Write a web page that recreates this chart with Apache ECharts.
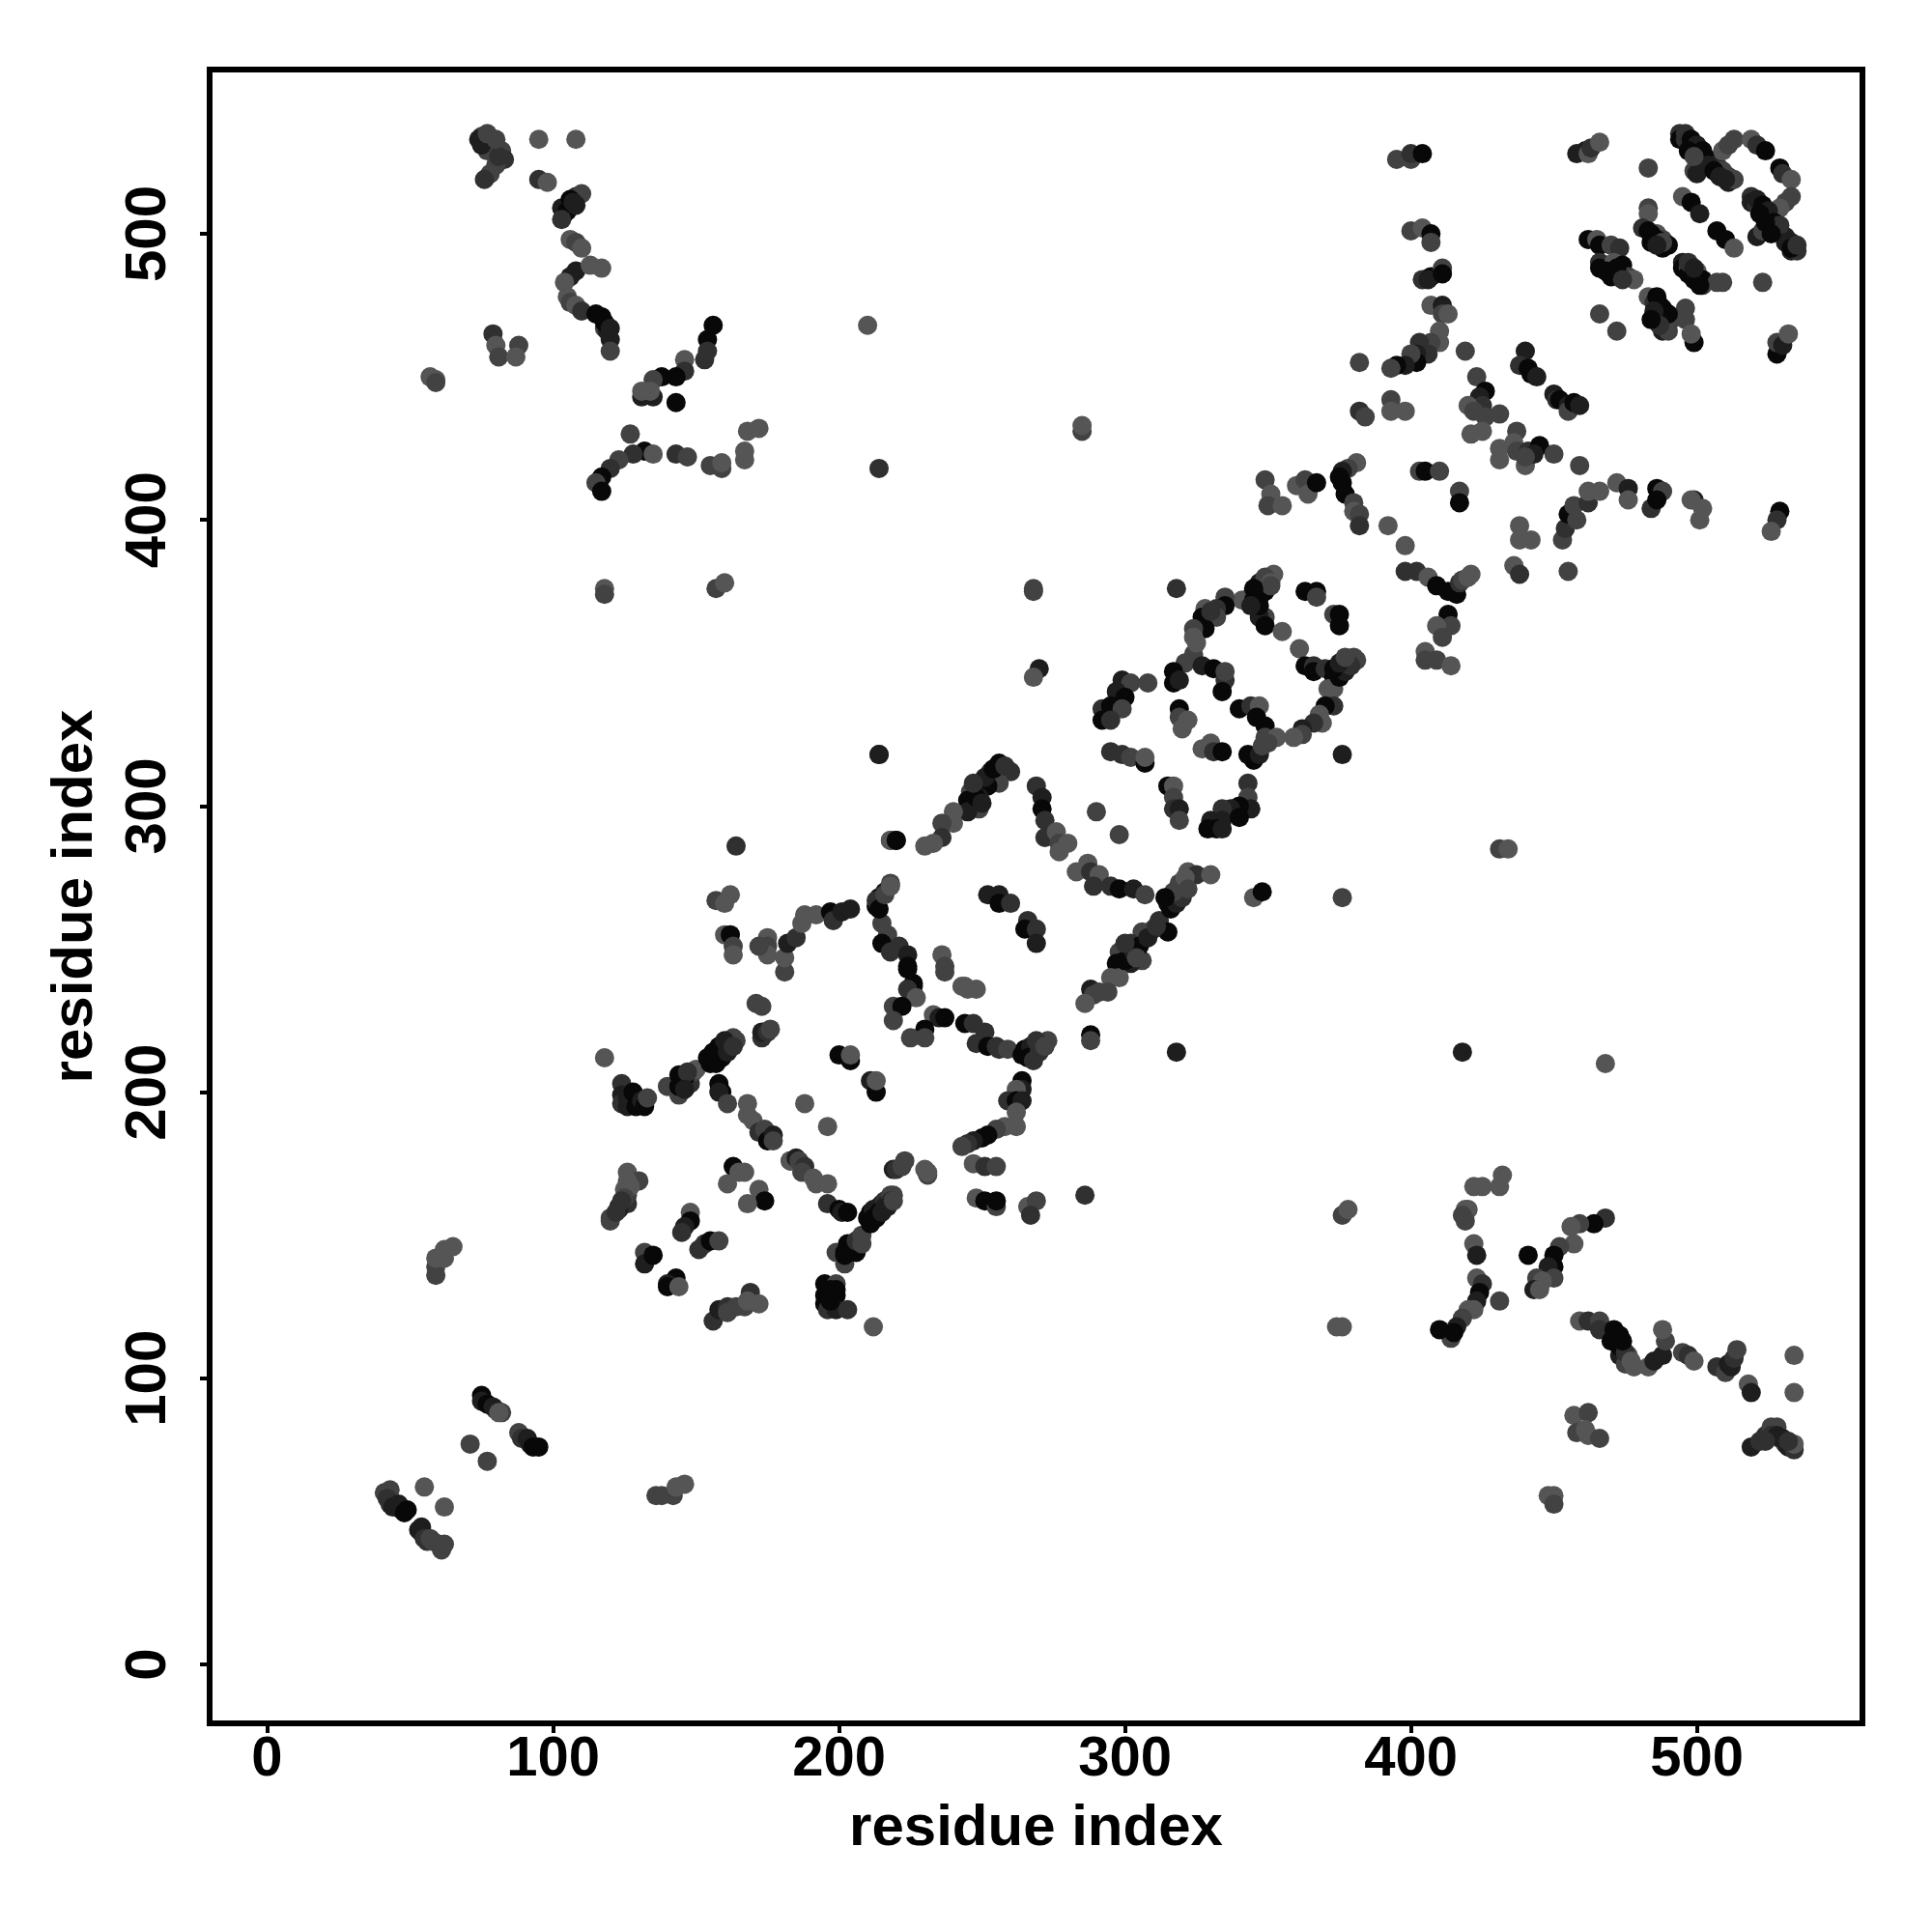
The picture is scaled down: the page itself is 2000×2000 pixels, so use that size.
<!DOCTYPE html>
<html><head><meta charset="utf-8"><style>html,body{margin:0;background:#fff}#c{width:2000px;height:2000px}</style>
<script src="https://cdn.jsdelivr.net/npm/echarts@6/dist/echarts.min.js"></script></head><body><div id="c"></div><script>
const tickValues=[0,100,200,300,400,500];
const shadeColors=['#080808','#1e1e1e','#303030','#424242','#555555'];
// [residue x, residue y, shade index]
const lowerLeft=[[41,60,3],[43,61,3],[42,58,2],[43,56,2],[44,55,1],[46,56,1],[47,54,1],[48,53,0],[49,54,0],[53,47,1],[54,46,1],[54,48,1],[55,45,1],[55,44,2],[56,43,2],[57,44,3],[58,43,3],[60,42,3],[61,40,3],[62,42,3],[55,62,4],[62,55,4],
[75,94,0],[75,92,1],[77,91,0],[79,90,1],[80,89,1],[82,88,3],[81,88,4],[88,81,3],[89,79,2],[91,79,1],[92,77,1],[93,76,0],[95,76,0],[71,77,3],[77,71,3],
[59,136,3],[59,139,3],[59,142,4],[62,142,4],[62,145,4],[65,146,4],[136,59,3],[138,59,3],[142,59,3],[143,62,4],[146,63,4]];
const band1=[[118,212,4],[124,203,2],[124,199,1],[124,196,2],[126,198,1],[126,195,1],[128,200,0],[129,195,0],[131,197,1],[132,195,0],[133,198,3],
[140,202,3],[144,199,3],[144,206,0],[144,202,0],[148,203,2],[149,207,3],[150,208,4],
[155,210,0],[157,212,0],[158,214,0],[159,215,0],[160,216,1],[161,217,1],[162,218,2],[163,219,3],[164,218,3],
[171,231,3],[173,230,3],[173,219,2],[173,221,1],[175,221,2],[176,222,3],
[158,203,0],[159,200,0],[158,200,1],[161,196,3],[168,196,4],[168,192,4],[170,190,4],[172,186,2],[174,187,3],[175,183,0],[177,185,1],[177,183,3],
[188,196,4],[196,188,4],[200,213,0],[204,211,0],[204,213,4],[211,204,1],[213,200,0],[213,204,4],
[183,176,0],[183,176,4],[185,177,1],[186,176,3],[188,174,2],[187,172,3],[191,170,4],[192,168,4],[196,168,4],
[196,161,2],[200,159,0],[201,158,1],[203,158,0],
[210,156,0],[211,158,0],[212,159,1],[214,160,1],[215,161,1],[216,162,2],[218,164,3],[219,164,3],
[219,173,1],[220,173,2],[222,174,3],[223,176,3],[230,173,4],[231,171,3],[231,172,4],
[199,144,3],[202,140,3],[203,147,0],[202,144,0],[206,144,0],[202,143,0],[206,148,2],[208,150,3],[208,147,3],
[195,133,0],[195,129,0],[199,129,0],[199,133,3],[195,126,0],[196,124,2],[199,124,1],[203,124,2],[212,118,4],
[126,172,4],[130,169,3],[126,169,4],[125,166,4],[126,164,3],[126,161,2],[123,160,2],[123,159,1],[120,156,3],[120,155,3],
[148,158,4],[148,155,0],[146,153,1],[145,151,2],[151,145,2],[153,147,2],[155,148,0],[158,148,3],
[132,144,3],[132,140,1],[135,143,0],[143,135,0],[140,133,1],[140,132,0],[144,132,4],
[156,120,2],[158,124,1],[161,125,2],[161,123,3],[164,125,3],[167,125,3],[169,130,2],[168,127,4],[172,126,4],
[163,174,0],[165,172,4],[167,172,4],[161,168,4],[172,166,4],[174,162,0],[168,161,4]];
const band2=[[226,237,1],[226,238,0],[224,236,2],[227,233,4],[219,230,3],[222,230,0],[219,225,3],[233,227,4],[235,226,1],[237,226,0],[230,222,0],[225,219,3],[230,219,3],
[244,237,4],[245,236,4],[248,236,4],[237,242,3],[224,243,0],[181,242,3],
[244,224,0],[247,224,2],[251,221,2],[248,217,2],[252,216,0],[255,216,2],[256,215,2],[259,215,3],
[264,213,0],[266,214,0],[268,213,1],[268,215,1],[269,216,2],[271,217,2],[273,218,3],
[264,204,0],[264,201,1],[262,201,4],[259,197,2],[262,197,0],[264,197,1],[262,193,4],[262,188,4],[258,188,4],[255,187,3],[252,185,0],[250,184,0],[247,183,1],[245,182,2],[243,181,3],
[247,175,4],[251,174,2],[255,174,3],[248,163,4],[251,162,0],[255,160,3],[255,162,0],[266,160,4],[269,162,3],[267,157,2],
[214,318,1],[256,315,0],[260,312,2],[257,312,2],[253,312,2],[256,308,3],[252,307,0],[249,305,0],[246,305,3],[249,303,1],[245,302,0],[249,299,3],[245,298,1],[240,298,4],[240,294,4],[236,294,3],[236,289,2],[233,287,4],[230,286,4],[218,288,3],[220,288,0],
[269,307,2],[271,303,1],[271,299,0],[272,295,2],[272,289,2],[276,291,4],[277,287,3],[280,287,4],[277,284,4],
[290,298,3],[298,290,3],
[283,277,4],[287,280,4],[288,277,2],[291,276,4],[289,272,2],[295,272,2],[298,271,0],[303,271,1],[307,269,3],
[315,266,0],[315,267,1],[317,269,2],[319,271,3],[320,273,4],[322,277,4],[325,276,2],[330,276,4],
[345,268,4],[348,270,0],[376,268,3],[286,164,2],
[213,265,0],[214,268,0],[216,270,1],[218,273,3],[215,259,3],[217,255,3],[215,252,0],[221,251,2],[218,249,2],[224,248,1],[224,244,0],
[236,248,4],[237,244,3],[243,237,4],
[252,269,1],[256,269,1],[256,266,0],[260,266,2],[266,260,2],[265,257,0],[269,257,2],[269,252,1],
[312,260,2],[315,256,0],[310,257,2],[306,253,0],[306,256,3],[302,252,2],[302,249,0],[306,246,3],[298,249,3],[297,245,0],[302,245,1],[298,240,4],[295,240,4],[294,235,3],[288,236,1],[291,235,3],[289,234,3],[286,231,4],
[288,220,0],[288,218,3],[318,214,1]];
const band3=[[318,376,2],[352,381,4],[350,379,4],[349,377,1],[347,376,0],[345,374,0],[344,373,1],[341,372,4],[335,373,3],[335,370,0],[332,369,2],[332,366,3],[328,369,4],[327,366,0],[328,362,0],[324,362,3],[324,359,4],
[349,366,3],[347,366,1],[349,363,0],[355,361,4],[361,355,4],[363,375,0],[367,375,0],[367,373,3],[373,367,3],[375,367,0],[375,363,0],
[363,349,0],[366,349,2],[366,347,0],[370,348,2],[373,345,0],[374,348,0],[376,349,1],[377,350,2],[380,352,3],[381,351,3],
[371,341,4],[373,341,4],[373,335,2],[370,335,0],[368,332,4],[369,329,4],[366,329,2],[362,327,1],[362,325,3],[359,324,4],
[324,353,3],[321,350,3],[327,349,1],[331,348,0],[317,347,0],[317,343,0],[319,344,1],[335,344,2],[334,340,0],[335,347,3],
[319,334,0],[319,331,3],[320,327,4],[322,330,4],[340,334,0],[344,335,2],[347,335,4],[346,331,0],[349,328,0],[349,324,3],[353,324,4],
[343,318,0],[345,316,0],[347,318,1],[348,321,3],[350,322,3],
[299,344,1],[302,343,3],[308,343,3],[297,340,1],[300,338,0],[292,334,2],[295,335,0],[299,334,3],[292,330,0],[295,330,2],
[295,319,2],[299,318,2],[302,317,3],[307,315,0],[307,317,4],[330,322,4],[327,320,4],[331,319,2],[334,319,0],
[315,307,0],[317,307,4],[317,303,3],[317,299,2],[319,299,1],[319,295,3],
[343,308,2],[343,303,3],[344,299,1],[340,300,0],[337,299,1],[334,299,2],[334,295,1],[340,296,0],[330,295,1],[329,292,0],[332,292,0],[334,292,1],[376,318,1],
[268,376,3],[268,375,3],[270,348,1],[268,345,4],[285,431,3],[285,433,4],[431,285,3],[434,285,4]];
const band4=[[404,484,2],[407,485,0],[406,484,1],[411,488,3],[411,486,0],[407,475,4],[411,475,1],[411,472,3],[413,472,4],
[410,466,4],[410,462,4],[407,462,3],[403,462,2],[406,458,2],[402,458,1],[402,455,0],[400,458,3],[398,454,1],[395,454,0],[393,453,3],[382,455,3],[419,459,3],[423,450,3],
[440,459,1],[438,454,2],[441,453,0],[442,451,0],[444,450,1],[450,444,1],[451,442,2],[452,442,0],[455,440,1],[455,438,3],[457,441,0],[459,440,1],
[426,445,0],[424,443,1],[425,440,2],[420,440,4],[422,438,3],[426,436,3],[431,437,3],[421,430,4],[425,431,4],
[437,431,3],[431,425,4],[431,421,4],[436,427,4],[437,424,3],[440,419,4],[441,424,2],[445,426,0],[443,423,1],[440,422,3],[450,423,3],[459,419,3],
[382,438,2],[384,436,3],[393,442,3],[393,438,4],[398,438,4],
[381,420,4],[378,418,3],[376,417,1],[375,415,0],[376,413,0],[377,409,0],[380,406,3],[380,403,4],[382,402,3],[382,398,2],
[349,414,3],[351,409,4],[350,405,3],[355,405,4],[360,412,4],[363,414,3],[364,409,4],[367,413,0],
[403,417,3],[405,417,0],[410,417,3],[417,410,3],[417,406,0],[392,398,4],[398,391,4],
[398,382,2],[402,382,2],[406,380,4],[409,377,0],[413,375,0],[416,374,0],[417,378,2],[418,379,3],[420,380,4],[421,381,4],
[413,367,0],[414,363,3],[409,363,4],[411,359,3],[405,354,4],[405,351,3],[409,351,3],[414,349,4],
[438,398,4],[438,393,4],[442,393,4],[436,384,4],[438,381,2],[455,382,3],
[453,393,3],[454,397,2],[455,402,0],[458,400,3],[457,405,3],[462,406,2],[462,410,4],[466,410,4],[472,413,4],[476,411,1],[476,407,4],
[486,411,0],[488,410,3],[484,404,2],[486,407,0],[499,407,1],[502,404,4],[501,400,4],[498,407,4],[529,403,0],[528,400,2],[526,396,4]];
const upperLeft=[[75,534,3],[77,533,3],[79,531,3],[82,529,3],[83,526,2],[80,524,3],[78,521,3],[76,519,2],[74,533,1],[77,529,3],
[95,533,4],[108,533,4],[95,519,2],[98,518,4],[103,509,1],[104,507,1],[106,510,2],[108,513,2],[110,514,3],[106,512,0],
[106,498,4],[108,497,3],[110,495,4],[108,487,1],[106,485,1],[104,483,4],[113,489,4],[117,488,4],
[105,478,4],[106,476,3],[108,475,4],[110,473,2],[115,472,0],[117,471,0],[118,467,3],[119,466,1],[120,463,1],[120,459,3],
[79,465,2],[80,461,4],[81,457,3],[88,461,3],[87,457,4],[57,450,4],[59,449,4],[59,448,3],
[156,468,0],[154,463,0],[154,459,2],[153,456,2],[146,456,4],[146,452,2],[143,450,0],[138,450,0],[135,449,3],[135,443,1],[131,443,1],[131,445,4],[134,445,4],[143,441,0],
[127,430,3],[132,424,0],[128,423,2],[135,423,4],[123,421,3],[120,418,2],[117,415,0],[115,413,3],[117,410,0],
[143,423,2],[147,422,3],[155,419,3],[159,418,3],[159,420,4],[167,421,4],[167,424,4],[168,431,4],[172,432,4],
[118,376,4],[118,374,3],[157,376,3],[160,378,4],[214,318,1],[214,418,2],[210,468,4],
[164,286,2],[218,288,4],[220,288,0],[157,267,3],[162,269,4],[160,266,4],[160,255,4],[162,255,0],[163,251,3],[163,248,4],
[175,254,4],[175,251,3],[175,248,4],[172,251,3],[181,247,4],[182,252,1],[185,254,2],[187,259,4],[188,262,4],[192,262,4],[197,263,0],[198,260,2],[201,263,1],[204,264,1],
[213,267,2],[214,264,0],[216,269,3],[218,272,4]];
const lowerRight=[[468,210,4],[418,214,1],[422,167,4],[425,167,4],[432,171,4],[431,167,4],[419,159,4],[420,159,4],[418,157,3],[419,155,3],[422,147,4],[423,143,1],
[423,135,4],[425,133,2],[424,130,0],[423,127,1],[420,124,4],[422,124,4],[418,121,3],[416,118,1],[414,114,3],[410,117,0],[415,116,0],[431,127,3],
[376,157,3],[378,159,4],[374,118,4],[376,118,4],
[468,156,2],[464,154,0],[459,154,3],[456,153,4],[457,147,4],[452,146,3],[450,143,0],[450,139,0],[448,139,1],[450,135,3],[444,135,3],[446,134,4],[443,131,1],[445,131,4],[441,143,0],
[459,120,4],[462,120,2],[466,120,3],[466,117,2],[471,117,0],[473,115,0],[472,113,0],[473,108,1],[476,108,4],[475,105,3],[478,104,4],[483,104,4],[485,106,1],[488,108,1],[489,113,3],[488,117,4],
[495,109,3],[497,108,2],[499,106,4],[507,104,2],[510,102,3],[511,105,1],[512,104,1],[513,107,2],[514,110,3],[518,98,4],[519,95,1],[534,108,4],[534,95,4],
[519,76,1],[522,78,2],[524,80,2],[526,83,3],[528,83,3],[529,79,2],[531,77,2],[532,76,1],[534,75,2],[534,77,4],
[457,87,4],[462,88,3],[458,81,3],[462,80,4],[461,82,4],[466,79,3],[448,59,4],[450,59,4],[450,56,3]];
const upperRight=[[395,526,3],[400,526,3],[400,528,2],[404,528,0],[400,501,3],[404,502,4],[407,500,0],[407,497,3],
[458,528,1],[461,529,1],[462,528,4],[463,530,2],[466,532,4],[483,523,3],
[494,535,2],[494,533,0],[496,533,2],[498,531,1],[500,529,4],[501,528,2],[503,526,3],[504,526,0],[507,524,2],[509,522,3],[511,520,3],[511,518,1],[513,519,3],[499,522,3],[500,521,1],
[509,529,4],[511,531,3],[513,533,3],[519,533,4],[521,531,2],[524,529,0],[529,523,0],[530,521,2],[533,519,4],[533,513,3],[531,511,3],[529,509,4],
[519,513,2],[519,511,1],[521,510,2],[524,508,0],[525,505,0],[528,502,3],[531,499,1],[533,497,1],[533,494,1],[535,494,2],[521,499,1],[523,501,3],
[495,513,4],[498,511,0],[501,507,1],[507,501,0],[510,498,0],[513,495,4],
[483,509,3],[483,507,4],[481,502,2],[483,501,0],[484,497,0],[486,500,4],[488,495,0],[488,498,3],[490,496,0],
[462,498,0],[465,498,4],[466,496,0],[470,496,3],[473,495,2],[466,490,2],[466,488,0],[471,490,4],[474,489,0],[474,487,0],[476,485,3],[478,484,4],
[495,490,1],[495,488,0],[497,488,3],[500,487,4],[502,482,3],[502,484,0],[507,483,3],[509,483,3],[523,483,3],
[483,478,4],[485,476,2],[487,475,0],[489,472,1],[487,470,1],[491,470,3],[496,474,3],[496,470,3],[488,466,1],[490,466,3],[499,462,0],[498,465,4],
[466,472,3],[472,466,3],[528,458,0],[528,462,3],[530,461,1],[532,465,4]];
const denseStrands=[[154,212,0],[156,214,0],[158,216,0],[160,218,1],[157,210,0],[159,212,0],[161,214,1],[163,216,2],
[212,156,0],[214,158,0],[216,160,1],[218,162,2],[211,154,0],[213,156,0],[215,158,1],[217,160,1],[219,162,3],
[265,215,0],[267,216,1],[269,218,2],[266,212,0],[268,211,2],[270,214,2],[272,216,3],
[316,264,0],[318,266,1],[320,268,2],[317,270,3],[319,273,3],[321,275,4],[322,271,3],[314,268,0],
[347,378,1],[349,380,3],[351,378,4],[347,373,0],[349,375,0],[351,377,3],[345,376,0],
[375,345,0],[377,347,1],[379,349,2],[373,348,0],[375,350,1],[377,352,3],
[251,310,1],[254,313,0],[258,314,2],[248,303,0],[247,308,2],[250,301,1],
[300,246,0],[303,249,1],[305,251,0],[308,254,1],[311,258,2],[304,247,3],[300,252,2],
[496,535,2],[498,533,0],[500,531,1],[502,529,0],[504,524,1],[506,522,0],[508,520,1],[510,519,1],[497,529,0],[499,527,3],
[521,512,1],[523,510,0],[525,508,1],[527,504,0],[529,503,2],[531,497,1],[533,495,0],[535,496,2],[522,507,0],[524,504,0],[526,500,0],
[484,500,0],[486,498,0],[488,497,3],[486,496,1],[497,486,0],[499,484,0],[501,482,0],[497,490,2],[499,488,1],
[468,487,0],[472,488,0],[470,485,0],[474,484,2],[486,478,0],[488,474,0],[490,472,0],[485,473,1],[487,468,2],[484,470,0],
[526,80,2],[528,80,1],[530,79,1],[532,78,2],[524,78,2],[77,531,2],[79,529,3],[81,527,2],[75,531,1],[77,535,3],[80,533,3],
[105,508,0],[107,511,1],[103,505,2],[108,510,1],[471,114,0],[473,111,0],[475,109,2],[470,113,0],[477,106,4],[474,113,0],
[118,469,0],[120,467,1],[197,131,0],[197,127,0],[199,131,0],[127,167,4],[125,163,3],[124,162,2],[122,158,2],[146,205,0],[147,207,2],[146,201,1],
[325,357,4],[330,368,2],[347,370,0],[345,372,0],[344,370,1]];
const points=[].concat(lowerLeft,band1,band2,band3,band4,upperLeft,lowerRight,upperRight,denseStrands);
const axisBase={type:'value',min:-20.1,max:557.9,nameLocation:'middle',splitLine:{show:false},axisLine:{show:false,onZero:false},
 axisTick:{show:true,customValues:tickValues,length:10,lineStyle:{color:'#000',width:4}},
 nameTextStyle:{fontFamily:'Liberation Sans',fontWeight:'bold',fontSize:60,color:'#000'}};
const chart=echarts.init(document.getElementById('c'),null,{renderer:'canvas'});
chart.setOption({animation:false,backgroundColor:'#fff',
 grid:{left:217,top:72,width:1711,height:1712,show:true,borderColor:'#000',borderWidth:6,backgroundColor:'transparent'},
 xAxis:Object.assign({},axisBase,{name:'residue index',nameGap:79,
  axisLabel:{customValues:tickValues,fontFamily:'Liberation Sans',fontWeight:'bold',fontSize:58,color:'#000',margin:9}}),
 yAxis:Object.assign({},axisBase,{min:-20.6,max:557.4,name:'residue index',nameGap:109,
  axisLabel:{customValues:tickValues,rotate:90,fontFamily:'Liberation Sans',fontWeight:'bold',fontSize:60,color:'#000',margin:63,verticalAlign:'middle',align:'center'}}),
 series:[{type:'scatter',data:points,symbol:'circle',symbolSize:20,encode:{x:0,y:1},
  itemStyle:{opacity:1,color:p=>shadeColors[p.data[2]]}}]});
</script></body></html>
